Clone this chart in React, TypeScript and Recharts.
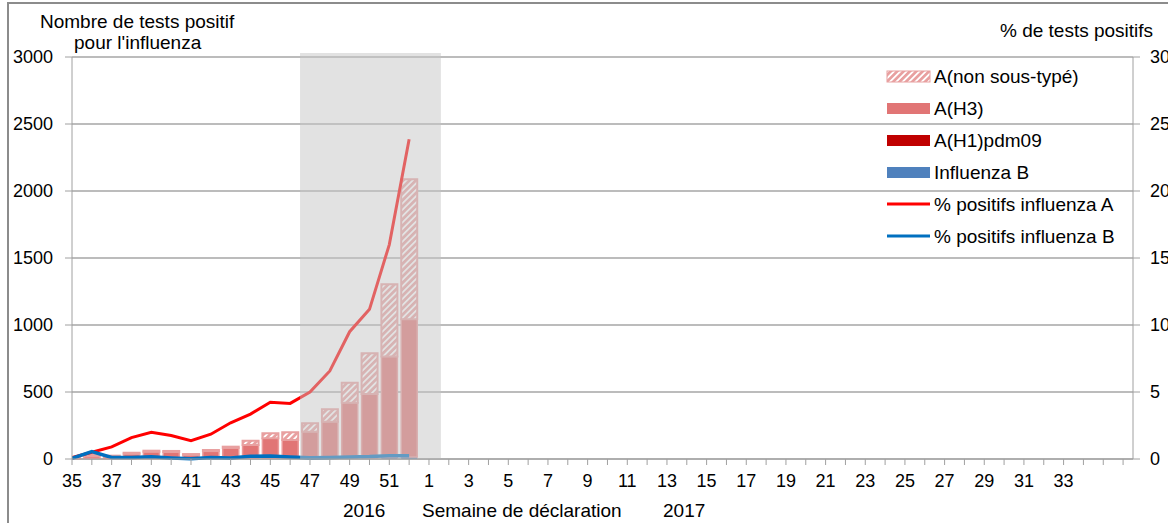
import React from "react"
import { Bar, ComposedChart, Line, XAxis, YAxis, CartesianGrid, ReferenceArea, Legend } from "recharts"

// semaines 35..52 (2016) puis 1..34 (2017)
const weeks = [35, 36, 37, 38, 39, 40, 41, 42, 43, 44, 45, 46, 47, 48, 49, 50, 51, 52,
  1, 2, 3, 4, 5, 6, 7, 8, 9, 10, 11, 12, 13, 14, 15, 16, 17, 18, 19, 20, 21, 22, 23, 24, 25, 26, 27, 28, 29, 30, 31, 32, 33, 34]

// nombre de tests positifs (semaines 35 à 52)
const influenzaB = [2, 6, 4, 4, 4, 3, 2, 4, 3, 5, 6, 5, 5, 6, 8, 8, 12, 15]
const aH1pdm09 = [0, 0, 0, 0, 0, 0, 0, 0, 0, 0, 0, 0, 0, 0, 0, 0, 0, 0]
const aH3 = [4, 16, 14, 36, 50, 49, 29, 55, 80, 99, 148, 137, 199, 272, 412, 477, 753, 1028]
const aNonSousType = [4, 8, 7, 7, 8, 8, 6, 8, 9, 33, 38, 57, 62, 93, 149, 304, 539, 1044]

// % de tests positifs
const pctA = [0.1, 0.5, 0.9, 1.6, 2.0, 1.75, 1.37, 1.85, 2.7, 3.35, 4.23, 4.15, 5.0, 6.57, 9.5, 11.17, 16.0, 23.86]
const pctB = [0.05, 0.55, 0.12, 0.12, 0.17, 0.08, 0.02, 0.12, 0.07, 0.2, 0.22, 0.15, 0.1, 0.12, 0.15, 0.18, 0.25, 0.25]

const leftTicks = [0, 500, 1000, 1500, 2000, 2500, 3000]
const rightTicks = [0, 5, 10, 15, 20, 25, 30]

const data = weeks.map((w, i) => ({
  idx: i,
  week: w,
  b: influenzaB[i],
  h1: aH1pdm09[i],
  h3: aH3[i],
  nst: aNonSousType[i],
  pa: pctA[i],
  pb: pctB[i],
}))

const xTicks = Array.from({ length: 54 }, (_, i) => i)
const fmtWeek = (i: number) => {
  const w = weeks[i]
  if (w === undefined || w % 2 === 0) return ""
  return String(w)
}

const H3 = "#e17575"
const font = "'Liberation Sans', Arial, sans-serif"

const legendItems = [
  { label: "A(non sous-typé)", kind: "hatch" },
  { label: "A(H3)", kind: "bar", color: H3 },
  { label: "A(H1)pdm09", kind: "bar", color: "#c00000" },
  { label: "Influenza B", kind: "bar", color: "#4f81bd" },
  { label: "% positifs influenza A", kind: "line", color: "#ff0000" },
  { label: "% positifs influenza B", kind: "line", color: "#0070c0" },
]

function LegendBox() {
  return (
    <svg width={280} height={200} style={{ fontFamily: font, display: "block" }}>
      <defs>
        <pattern id="hatchLeg" width="4.5" height="4.5" patternUnits="userSpaceOnUse" patternTransform="rotate(45)">
          <rect width="4.5" height="4.5" fill="#e8a0a0" />
          <rect width="1.8" height="4.5" fill="#ffffff" />
        </pattern>
      </defs>
      {legendItems.map((it, i) => {
        const cy = 16 + i * 32
        return (
          <g key={it.label}>
            {it.kind === "hatch" && <rect x={2} y={cy - 5} width={43} height={11} fill="url(#hatchLeg)" stroke="#e8a0a0" />}
            {it.kind === "bar" && <rect x={2} y={cy - 5} width={43} height={11} fill={it.color} />}
            {it.kind === "line" && <line x1={2} x2={45} y1={cy} y2={cy} stroke={it.color} strokeWidth={3} />}
            <text x={49} y={cy + 7} fontSize={19} fill="#000">{it.label}</text>
          </g>
        )
      })}
    </svg>
  )
}

export default function App() {
  return (
    <div style={{ position: "fixed", left: 0, top: 0, width: 1168, height: 523, overflow: "hidden", background: "#fff", fontFamily: font }}>
      <div style={{ position: "absolute", left: 7, top: 2, width: 2000, height: 2000, border: "2px solid #8c8c8c" }} />
      <div style={{ position: "absolute", left: 0, top: 0 }}>
        <ComposedChart width={1200} height={523} data={data} margin={{ top: 57, right: 27, left: 0, bottom: 24 }}>
          <defs>
            <pattern id="hatch" width="4.5" height="4.5" patternUnits="userSpaceOnUse" patternTransform="rotate(45)">
              <rect width="4.5" height="4.5" fill="#e8a0a0" />
              <rect width="1.8" height="4.5" fill="#ffffff" />
            </pattern>
          </defs>
          <CartesianGrid vertical={false} stroke="#a6a6a6" strokeWidth={1.3} yAxisId="left" />
          <XAxis
            dataKey="idx"
            type="number"
            domain={[0, 53.5]}
            allowDataOverflow
            ticks={xTicks}
            interval={0}
            tickFormatter={fmtWeek}
            tick={{ fontSize: 18, fill: "#000" }}
            tickSize={6}
            tickMargin={9}
            stroke="#a0a0a0"
            height={40}
          />
          <YAxis
            yAxisId="left"
            domain={[0, 3000]}
            ticks={leftTicks}
            tick={{ fontSize: 18, fill: "#000" }}
            tickSize={7}
            tickMargin={12}
            stroke="#a0a0a0"
            width={72}
          />
          <YAxis
            yAxisId="right"
            orientation="right"
            domain={[0, 30]}
            ticks={rightTicks}
            tick={{ fontSize: 18, fill: "#000", textAnchor: "start" }}
            tickSize={7}
            tickMargin={10}
            stroke="#a0a0a0"
            width={40}
          />
          <Bar yAxisId="left" dataKey="b" stackId="s" fill="#4f81bd" barSize={16} isAnimationActive={false} />
          <Bar yAxisId="left" dataKey="h1" stackId="s" fill="#c00000" barSize={16} isAnimationActive={false} />
          <Bar yAxisId="left" dataKey="h3" stackId="s" fill={H3} stroke="#eb9a9a" strokeWidth={1.5} barSize={16} isAnimationActive={false} />
          <Bar yAxisId="left" dataKey="nst" stackId="s" fill="url(#hatch)" stroke="#e8a0a0" strokeWidth={2} barSize={16} isAnimationActive={false} />
          <Line yAxisId="right" dataKey="pa" type="linear" stroke="#ff0000" strokeWidth={3} dot={false} isAnimationActive={false} />
          <Line yAxisId="right" dataKey="pb" type="linear" stroke="#0070c0" strokeWidth={3.5} dot={false} isAnimationActive={false} />
          <ReferenceArea
            yAxisId="left"
            x1={11.5}
            x2={18.6}
            y1={0}
            y2={3030}
            ifOverflow="visible"
            fill="#c6c6c6"
            fillOpacity={0.5}
            stroke="none"
            zIndex={450}
          />
          <Legend
            layout="horizontal"
            verticalAlign="middle"
            align="center"
            content={() => <LegendBox />}
            wrapperStyle={{ position: "absolute", left: 885, top: 60, width: 280, height: 200 }}
          />
        </ComposedChart>
      </div>
      <svg width={1168} height={523} style={{ position: "absolute", left: 0, top: 0, pointerEvents: "none" }} fontFamily={font} fontSize={19}>
        <text x={40} y={28}>Nombre de tests positif</text>
        <text x={74} y={49}>pour l'influenza</text>
        <text x={1000} y={37}>% de tests positifs</text>
        <text x={343} y={517}>2016</text>
        <text x={422} y={517}>Semaine de déclaration</text>
        <text x={663} y={517}>2017</text>
      </svg>
    </div>
  )
}
